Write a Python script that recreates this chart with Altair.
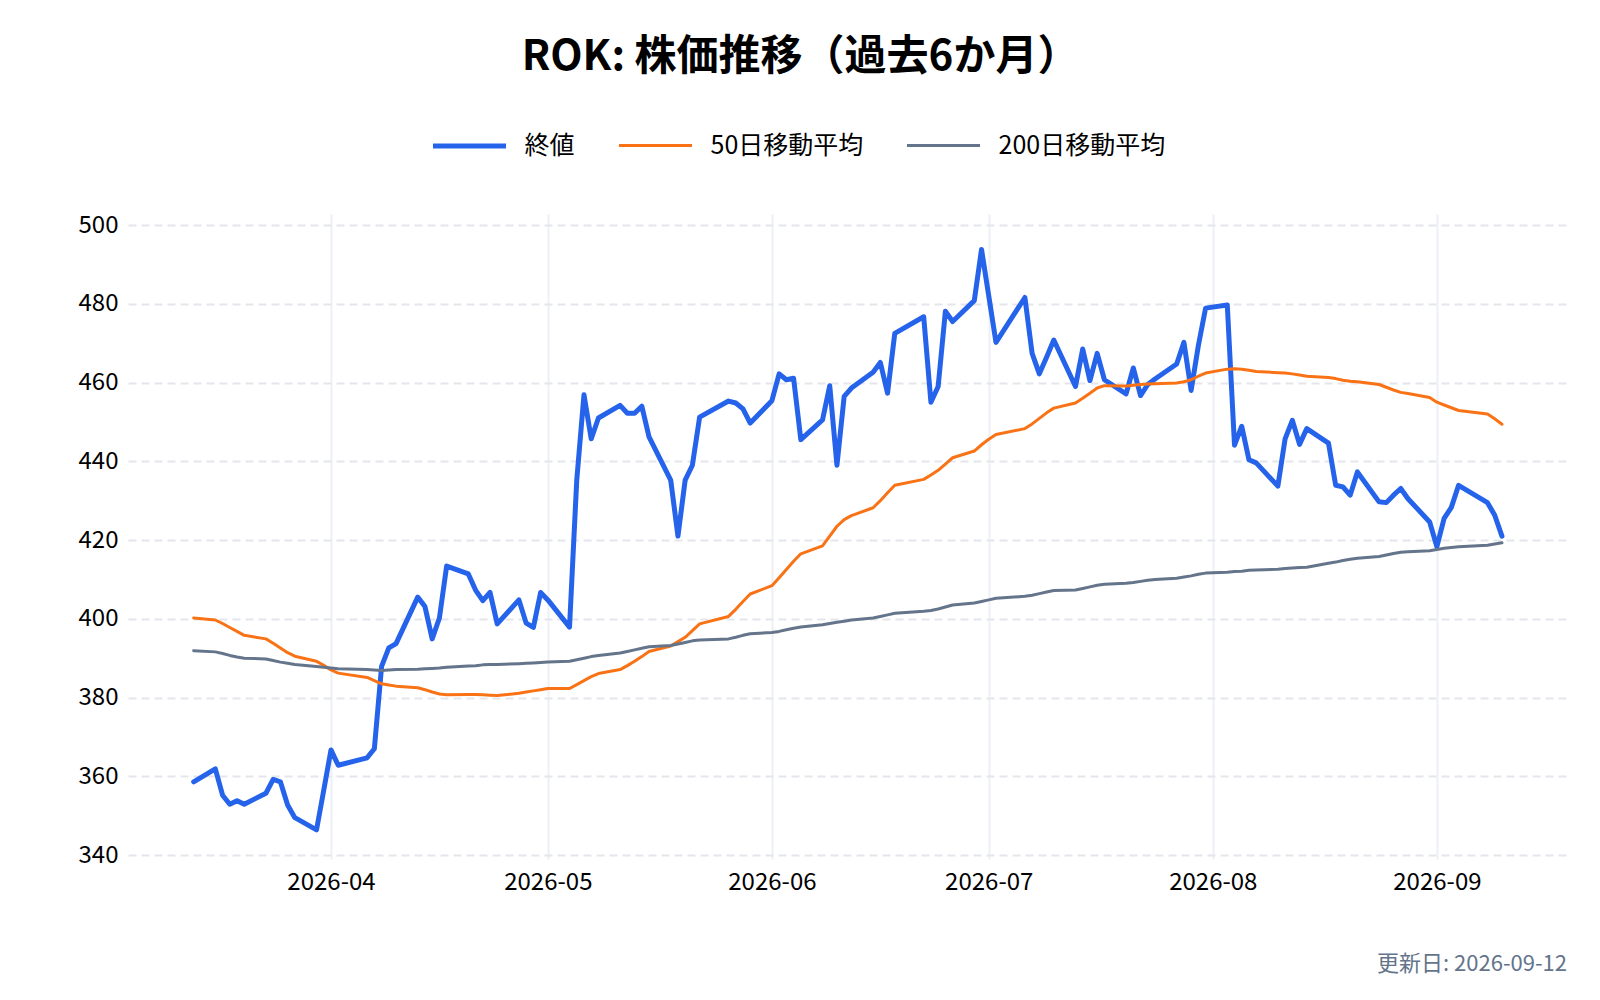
import altair as alt
import pandas as pd

FONT = "Noto Sans CJK JP"

title_text = "ROK: 株価推移（過去6か月）"
footer_text = "更新日: 2026-09-12"

dates = [
    "2026-03-13", "2026-03-16", "2026-03-17", "2026-03-18", "2026-03-19", "2026-03-20",
    "2026-03-23", "2026-03-24", "2026-03-25", "2026-03-26", "2026-03-27", "2026-03-30", "2026-03-31",
    "2026-04-01", "2026-04-02", "2026-04-06", "2026-04-07", "2026-04-08", "2026-04-09", "2026-04-10",
    "2026-04-13", "2026-04-14", "2026-04-15", "2026-04-16", "2026-04-17", "2026-04-20", "2026-04-21",
    "2026-04-22", "2026-04-23", "2026-04-24", "2026-04-27", "2026-04-28", "2026-04-29", "2026-04-30",
    "2026-05-01", "2026-05-04", "2026-05-05", "2026-05-06", "2026-05-07", "2026-05-08", "2026-05-11",
    "2026-05-12", "2026-05-13", "2026-05-14", "2026-05-15", "2026-05-18", "2026-05-19", "2026-05-20",
    "2026-05-21", "2026-05-22", "2026-05-26", "2026-05-27", "2026-05-28", "2026-05-29",
    "2026-06-01", "2026-06-02", "2026-06-03", "2026-06-04", "2026-06-05", "2026-06-08", "2026-06-09",
    "2026-06-10", "2026-06-11", "2026-06-12", "2026-06-15", "2026-06-16", "2026-06-17", "2026-06-18",
    "2026-06-22", "2026-06-23", "2026-06-24", "2026-06-25", "2026-06-26", "2026-06-29", "2026-06-30",
    "2026-07-01", "2026-07-02", "2026-07-06", "2026-07-07", "2026-07-08", "2026-07-09", "2026-07-10",
    "2026-07-13", "2026-07-14", "2026-07-15", "2026-07-16", "2026-07-17", "2026-07-20", "2026-07-21",
    "2026-07-22", "2026-07-23", "2026-07-24", "2026-07-27", "2026-07-28", "2026-07-29", "2026-07-30",
    "2026-07-31",
    "2026-08-03", "2026-08-04", "2026-08-05", "2026-08-06", "2026-08-07", "2026-08-10", "2026-08-11",
    "2026-08-12", "2026-08-13", "2026-08-14", "2026-08-17", "2026-08-18", "2026-08-19", "2026-08-20",
    "2026-08-21", "2026-08-24", "2026-08-25", "2026-08-26", "2026-08-27", "2026-08-28", "2026-08-31",
    "2026-09-01", "2026-09-02", "2026-09-03", "2026-09-04", "2026-09-08", "2026-09-09", "2026-09-10",
]

close = [
    358.6, 361.9, 355.2, 352.9, 353.8, 352.9, 355.7, 359.2, 358.6, 352.7, 349.5, 346.4, 356.5,
    366.7, 362.8, 364.7, 367.0, 387.9, 392.6, 393.7, 405.5, 403.1, 394.9, 400.2, 413.4, 411.4,
    407.3, 404.6, 406.7, 398.7, 404.8, 398.9, 397.8, 406.7,
    404.8, 397.9, 435.2, 456.9, 445.7, 451.0, 454.2, 452.2, 452.2, 454.0, 446.2, 435.2, 421.0,
    435.2, 439.0, 451.2, 455.3, 454.8, 453.3, 449.7,
    455.4, 462.2, 460.7, 461.1, 445.5, 450.5, 459.2, 439.0, 456.5, 458.6, 462.6, 465.1, 457.3,
    472.5, 476.7, 455.0, 459.0, 478.1, 475.5, 480.8, 493.8,
    482.0, 470.2, 481.6, 467.4, 462.2, 466.4, 470.8, 459.0, 468.5, 460.5, 467.4, 460.7, 457.1,
    463.7, 456.7, 459.5, 460.9, 464.7, 470.2, 458.0, 469.4, 478.9,
    479.7, 444.1, 448.9, 440.4, 439.6, 433.7, 445.7, 450.4, 444.3, 448.3, 444.6, 433.9, 433.5,
    431.4, 437.3, 429.7, 429.5, 431.4, 433.1, 430.5, 424.6,
    418.3, 425.5, 428.3, 433.9, 429.5, 426.3, 421.0,
]

ma50 = [
    400.2, 399.7, 398.8, 397.8, 396.8, 395.8, 394.9, 393.8, 392.6, 391.4, 390.5, 389.2, 388.2,
    387.0, 386.2, 385.1, 384.3, 383.5, 383.2, 382.9, 382.5, 382.0, 381.4, 380.9, 380.7, 380.8,
    380.8, 380.7, 380.6, 380.5, 381.1, 381.4, 381.7, 382.0,
    382.3, 382.3, 383.3, 384.3, 385.3, 386.1, 387.1, 388.1, 389.2, 390.4, 391.7, 393.1, 394.2,
    395.3, 397.0, 398.7, 400.6, 402.4, 404.4, 406.3,
    408.4, 410.4, 412.5, 414.6, 416.5, 418.5, 421.0, 423.5, 425.2, 426.2, 428.2, 430.0, 432.0,
    433.9, 435.4, 436.5, 437.7, 439.3, 440.9, 442.6, 444.2,
    445.6, 446.8, 448.3, 449.5, 450.9, 452.3, 453.5, 454.8, 456.0, 457.3, 458.6, 459.2, 459.1,
    459.3, 459.5, 459.6, 459.7, 459.9, 460.2, 460.7, 461.6, 462.4,
    463.4, 463.5, 463.4, 463.1, 462.8, 462.5, 462.4, 462.2, 461.9, 461.6, 461.3, 461.0, 460.6,
    460.3, 460.2, 459.5, 458.8, 458.1, 457.5, 457.2, 456.2,
    455.0, 454.3, 453.6, 452.9, 452.0, 450.8, 449.4,
]

ma200 = [
    391.9, 391.6, 391.2, 390.7, 390.3, 390.0, 389.8, 389.4, 389.0, 388.7, 388.4, 387.9, 387.7,
    387.5, 387.3, 387.1, 387.0, 386.9, 387.0, 387.1, 387.2, 387.3, 387.4, 387.5, 387.7, 388.0,
    388.1, 388.3, 388.4, 388.4, 388.6, 388.7, 388.8, 388.9,
    389.0, 389.2, 389.6, 390.0, 390.4, 390.7, 391.3, 391.7, 392.1, 392.5, 392.9, 393.2, 393.6,
    394.0, 394.4, 394.6, 394.9, 395.3, 395.8, 396.2,
    396.5, 396.8, 397.2, 397.6, 397.9, 398.5, 398.8, 399.1, 399.4, 399.7, 400.2, 400.6, 401.0,
    401.4, 401.9, 402.1, 402.5, 403.0, 403.5, 404.0, 404.4,
    404.8, 405.2, 405.7, 406.0, 406.4, 406.8, 407.2, 407.3, 407.7, 408.1, 408.5, 408.8, 409.0,
    409.2, 409.5, 409.8, 410.0, 410.3, 410.6, 410.9, 411.3, 411.6,
    411.8, 412.0, 412.1, 412.3, 412.4, 412.6, 412.8, 412.9, 413.0, 413.1, 414.1, 414.4, 414.8,
    415.1, 415.4, 415.8, 416.2, 416.6, 416.9, 417.0, 417.3,
    417.6, 417.9, 418.1, 418.3, 418.7, 419.0, 419.3,
]

series_names = ["終値", "50日移動平均", "200日移動平均"]
series_colors = ["#2563eb", "#f97316", "#64748b"]
series_widths = [5, 3, 3]
y_ticks = [340, 360, 380, 400, 420, 440, 460, 480, 500]
x_tick_months = [4, 5, 6, 7, 8, 9]

rows = []
for name, vals in zip(series_names, [close, ma50, ma200]):
    for d, v in zip(dates, vals):
        rows.append({"date": d + "T00:00:00", "value": v, "series": name})
df = pd.DataFrame(rows)

W, H = 1439, 645

legend_props = dict(
    title=None,
    orient="none",
    legendX=302.5,
    legendY=-107,
    direction="horizontal",
    columns=3,
    symbolType="stroke",
    symbolSize=5329,
    labelFontSize=25,
    labelFont=FONT,
    labelColor="#000000",
    labelOffset=16,
    labelLimit=400,
    columnPadding=37,
    padding=0,
)

x_enc = alt.X(
    "date:T",
    scale=alt.Scale(
        domain=[
            alt.DateTime(year=2026, month=3, date=3, hours=22),
            alt.DateTime(year=2026, month=9, date=19),
        ]
    ),
    axis=alt.Axis(
        values=[alt.DateTime(year=2026, month=m, date=1) for m in x_tick_months],
        format="%Y-%m",
        title=None,
        grid=True,
        gridColor="#edf0f5",
        gridWidth=2,
        domain=False,
        ticks=False,
        labelFontSize=24,
        labelFont=FONT,
        labelColor="#000000",
        labelPadding=11,
    ),
)
y_enc = alt.Y(
    "value:Q",
    scale=alt.Scale(domain=[339, 502.8], nice=False, zero=False),
    axis=alt.Axis(
        values=y_ticks,
        title=None,
        grid=True,
        gridColor="#e4e6eb",
        gridDash=[8, 5],
        gridWidth=2,
        domain=False,
        ticks=False,
        labelFontSize=24,
        labelFont=FONT,
        labelColor="#000000",
        labelPadding=10,
    ),
)
color_enc = alt.Color(
    "series:N",
    scale=alt.Scale(domain=series_names, range=series_colors),
    legend=alt.Legend(**legend_props),
)
width_enc = alt.StrokeWidth(
    "series:O",
    scale=alt.Scale(type="ordinal", domain=series_names, range=series_widths),
    legend=alt.Legend(**legend_props),
)

base = alt.Chart(df).mark_line(strokeJoin="round", strokeCap="round").encode(
    x=x_enc, y=y_enc, color=color_enc, strokeWidth=width_enc
)

layers = [base.transform_filter(alt.datum.series == name) for name in series_names]

footer = alt.Chart(alt.Data(values=[{"t": footer_text}])).mark_text(
    align="right", baseline="middle", fontSize=22, font=FONT, color="#64748b"
).encode(x=alt.value(W), y=alt.value(750), text="t:N")

chart = alt.layer(*layers, footer).properties(
    width=W,
    height=H,
    title=alt.Title(
        title_text,
        fontSize=42,
        fontWeight="bold",
        font=FONT,
        color="#000000",
        anchor="middle",
        frame="group",
        dx=-47,
        offset=28,
    ),
    autosize=alt.AutoSizeParams(type="none"),
    padding={"left": 120, "top": 206, "right": 25, "bottom": 120},
).configure(background="white").configure_view(stroke=None)

chart.save("out.html", embed_options={"renderer": "svg", "actions": False})
